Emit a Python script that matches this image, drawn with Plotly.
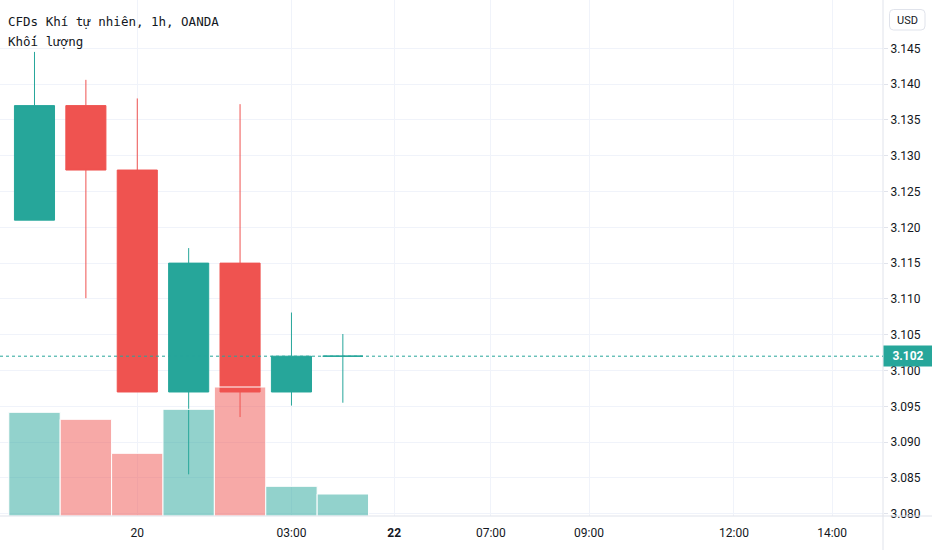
import plotly.graph_objects as go

# candles, 1h bars (index positions along the time axis)
bar_idx = [0, 1, 2, 3, 4, 5, 6]
opens = [3.121, 3.137, 3.128, 3.097, 3.115, 3.097, 3.102]
highs = [3.1445, 3.1406, 3.138, 3.1171, 3.1372, 3.1081, 3.1051]
lows = [3.121, 3.1101, 3.097, 3.0855, 3.0935, 3.0951, 3.0955]
closes = [3.137, 3.128, 3.097, 3.115, 3.097, 3.102, 3.102]
volumes = [5185, 4835, 3135, 5335, 6450, 1485, 1100]

last_price = 3.102

tick_pos = [2, 5, 7, 8.88, 10.79, 13.61, 15.52]
tick_text = ["20", "03:00", "<b>22</b>", "07:00", "09:00", "12:00", "14:00"]
price_ticks = [3.080, 3.085, 3.090, 3.095, 3.100, 3.105, 3.110, 3.115,
               3.120, 3.125, 3.130, 3.135, 3.140, 3.145]

UP = "#26a69a"
DOWN = "#ef5350"
UP_VOL = "rgba(38,166,154,0.5)"
DOWN_VOL = "rgba(239,83,80,0.5)"
GRID = "#f0f3fa"
AXLINE = "#e0e3eb"
TXT = "#131722"

vol_colors = [UP_VOL if c >= o else DOWN_VOL for o, c in zip(opens, closes)]

fig = go.Figure()

fig.add_trace(go.Candlestick(
    x=bar_idx, open=opens, high=highs, low=lows, close=closes,
    increasing=dict(line=dict(color=UP, width=1), fillcolor=UP),
    decreasing=dict(line=dict(color=DOWN, width=1), fillcolor=DOWN),
    whiskerwidth=0, showlegend=False, hoverinfo="skip",
))

fig.add_trace(go.Bar(
    x=bar_idx, y=volumes, yaxis="y2", width=1,
    marker=dict(color=vol_colors, line=dict(color="white", width=1)),
    showlegend=False, hoverinfo="skip",
))

fig.update_layout(
    width=932, height=550,
    margin=dict(l=0, r=49, t=0, b=34),
    paper_bgcolor="white", plot_bgcolor="white",
    boxgap=0.22, boxgroupgap=0,
    font=dict(family="Roboto", size=12, color=TXT),
    xaxis=dict(
        range=[-0.671, 16.51], rangeslider=dict(visible=False),
        tickmode="array", tickvals=tick_pos, ticktext=tick_text,
        showgrid=True, gridcolor=GRID, gridwidth=1,
        showline=False, zeroline=False, ticks="", ticklabelstandoff=8,
        tickfont=dict(family="Roboto", size=12, color=TXT),
    ),
    yaxis=dict(
        side="right", range=[3.07968, 3.15175],
        tickmode="array", tickvals=price_ticks, tickformat=".3f",
        showgrid=True, gridcolor=GRID, gridwidth=1,
        showline=False, zeroline=False,
        ticks="outside", ticklen=4, tickcolor=AXLINE,
        tickfont=dict(family="Roboto", size=12, color=TXT),
    ),
    yaxis2=dict(
        overlaying="y", range=[0, 25800], visible=False,
        showgrid=False, zeroline=False,
    ),
)

# axis borders: time scale line runs under the price scale too
fig.add_shape(type="line", xref="paper", yref="paper", x0=0, x1=1.06,
              y0=0, y1=0, line=dict(color=AXLINE, width=1))
fig.add_shape(type="line", xref="paper", yref="paper", x0=1, x1=1,
              y0=-0.07, y1=1, line=dict(color=AXLINE, width=1))

# last price dotted line + label
fig.add_shape(type="line", xref="paper", yref="y", x0=0, x1=1,
              y0=last_price, y1=last_price,
              line=dict(color=UP, width=1, dash="dot"))

fig.add_annotation(xref="paper", yref="y", x=1, y=last_price,
                   xanchor="left", yanchor="middle", showarrow=False,
                   text="<b>%.3f</b>" % last_price,
                   font=dict(family="Roboto", size=12, color="white"),
                   bgcolor=UP, borderpad=3, width=42)

# currency button, rounded box
fig.add_shape(type="path", xref="paper", yref="paper",
              xsizemode="pixel", ysizemode="pixel", xanchor=1, yanchor=1,
              path="M 10.5 -9.5 L 38 -9.5 Q 42 -9.5 42 -13.5 L 42 -26 "
                   "Q 42 -30 38 -30 L 10.5 -30 Q 6.5 -30 6.5 -26 "
                   "L 6.5 -13.5 Q 6.5 -9.5 10.5 -9.5 Z",
              line=dict(color=AXLINE, width=1), fillcolor="white")
fig.add_annotation(xref="paper", yref="paper", x=1, y=1,
                   xanchor="center", yanchor="middle", xshift=24, yshift=-20,
                   showarrow=False, text="USD",
                   font=dict(family="Roboto", size=11, color=TXT))

# legend texts top-left
fig.add_annotation(xref="paper", yref="paper", x=0, y=1,
                   xanchor="left", yanchor="top", xshift=6, yshift=-12,
                   showarrow=False, align="left",
                   text="CFDs Khí tự nhiên, 1h, OANDA",
                   font=dict(family="DejaVu Sans Mono", size=12.5, color=TXT))
fig.add_annotation(xref="paper", yref="paper", x=0, y=1,
                   xanchor="left", yanchor="top", xshift=6, yshift=-32,
                   showarrow=False, align="left",
                   text="Khối lượng",
                   font=dict(family="DejaVu Sans Mono", size=12.5, color=TXT))

# page body has an 8px default margin, drop it so the figure sits at 0,0
fig.write_html("out.html", config={"displayModeBar": False},
               post_script="document.body.style.margin='0';")
